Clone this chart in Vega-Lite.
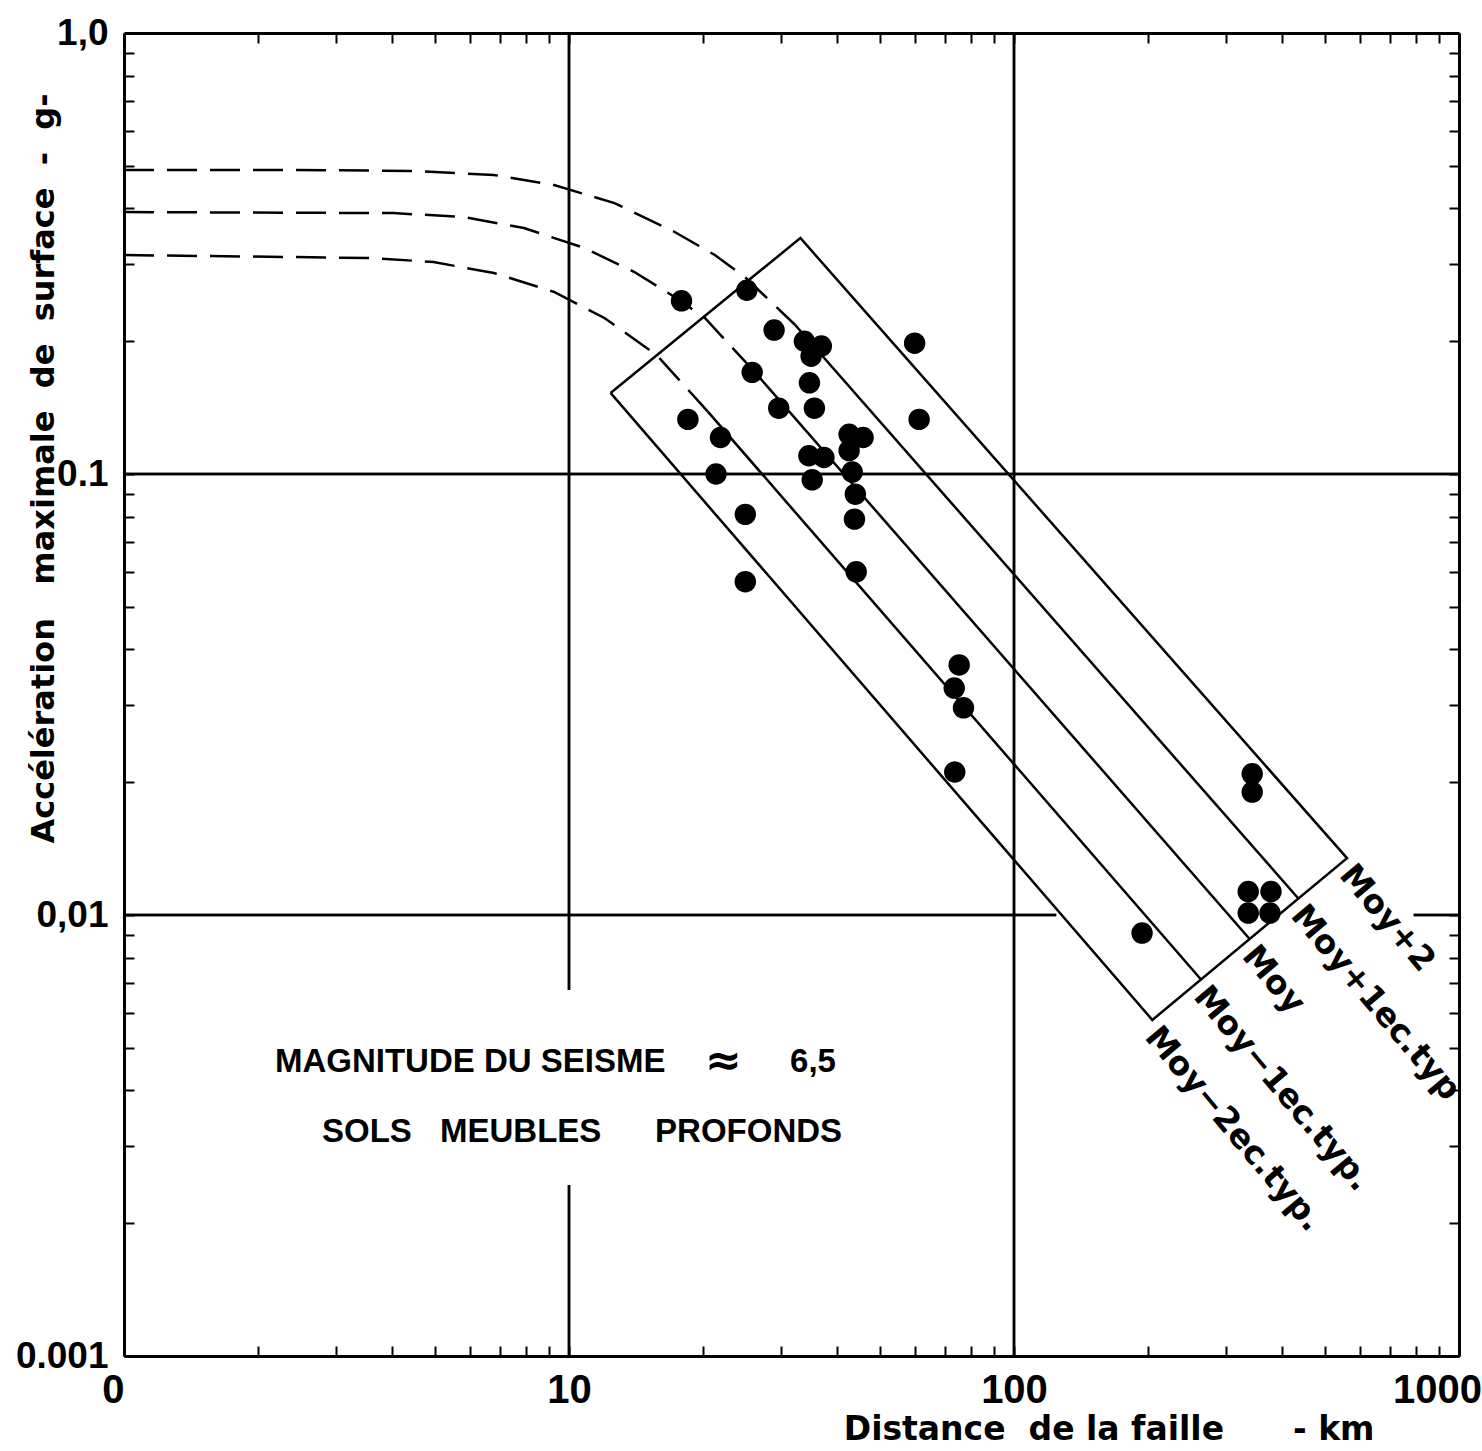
{
  "$schema": "https://vega.github.io/schema/vega-lite/v6.json",
  "width": 1335,
  "height": 1323,
  "autosize": {"type": "none"},
  "padding": {"left": 124, "top": 33, "right": 23, "bottom": 95},
  "background": "white",
  "config": {"view": {"stroke": null}},
  "datasets": {
    "points": [
      {"dist": 17.9, "acc": 0.247}, {"dist": 25.1, "acc": 0.261}, {"dist": 28.9, "acc": 0.212},
      {"dist": 33.8, "acc": 0.200}, {"dist": 36.9, "acc": 0.195}, {"dist": 35.0, "acc": 0.185},
      {"dist": 59.8, "acc": 0.198}, {"dist": 25.8, "acc": 0.170}, {"dist": 34.7, "acc": 0.161},
      {"dist": 29.6, "acc": 0.141}, {"dist": 35.6, "acc": 0.141}, {"dist": 61.2, "acc": 0.133},
      {"dist": 18.5, "acc": 0.133}, {"dist": 21.9, "acc": 0.121}, {"dist": 42.6, "acc": 0.123},
      {"dist": 45.8, "acc": 0.121}, {"dist": 42.6, "acc": 0.113}, {"dist": 34.6, "acc": 0.110},
      {"dist": 37.4, "acc": 0.109}, {"dist": 21.4, "acc": 0.100}, {"dist": 35.2, "acc": 0.097},
      {"dist": 43.3, "acc": 0.101}, {"dist": 44.0, "acc": 0.090}, {"dist": 43.8, "acc": 0.079},
      {"dist": 24.9, "acc": 0.081}, {"dist": 44.2, "acc": 0.060}, {"dist": 24.9, "acc": 0.057},
      {"dist": 75.3, "acc": 0.0369}, {"dist": 73.4, "acc": 0.0327}, {"dist": 77.0, "acc": 0.0295},
      {"dist": 73.6, "acc": 0.0211}, {"dist": 343, "acc": 0.0209}, {"dist": 343, "acc": 0.0190},
      {"dist": 336, "acc": 0.0113}, {"dist": 378, "acc": 0.0113}, {"dist": 336, "acc": 0.0101},
      {"dist": 376, "acc": 0.0101}, {"dist": 194, "acc": 0.0091}
    ],
    "grid": [
      {"dist": 10, "dist2": 10, "acc": 1, "acc2": 0.00676},
      {"dist": 10, "dist2": 10, "acc": 0.00244, "acc2": 0.001},
      {"dist": 100, "dist2": 100, "acc": 1, "acc2": 0.001},
      {"dist": 1, "dist2": 1000, "acc": 0.1, "acc2": 0.1},
      {"dist": 1, "dist2": 124.4, "acc": 0.01, "acc2": 0.01},
      {"dist": 791, "dist2": 1000, "acc": 0.01, "acc2": 0.01}
    ],
    "traces": [
      {"trace": "courbe+1", "kind": "courbe", "ordre": 1, "dist": 1, "acc": 0.489},
      {"trace": "courbe+1", "kind": "courbe", "ordre": 2, "dist": 2.40, "acc": 0.489},
      {"trace": "courbe+1", "kind": "courbe", "ordre": 3, "dist": 4.47, "acc": 0.4866},
      {"trace": "courbe+1", "kind": "courbe", "ordre": 4, "dist": 6.78, "acc": 0.4765},
      {"trace": "courbe+1", "kind": "courbe", "ordre": 5, "dist": 9.26, "acc": 0.4521},
      {"trace": "courbe+1", "kind": "courbe", "ordre": 6, "dist": 12.65, "acc": 0.4115},
      {"trace": "courbe+1", "kind": "courbe", "ordre": 7, "dist": 17.28, "acc": 0.3538},
      {"trace": "courbe+1", "kind": "courbe", "ordre": 8, "dist": 21.27, "acc": 0.3137},
      {"trace": "courbe+1", "kind": "courbe", "ordre": 9, "dist": 24.99, "acc": 0.2782},
      {"trace": "courbe+1", "kind": "courbe", "ordre": 10, "dist": 32.24, "acc": 0.2177},
      {"trace": "courbe0", "kind": "courbe", "ordre": 1, "dist": 1, "acc": 0.3926},
      {"trace": "courbe0", "kind": "courbe", "ordre": 2, "dist": 4.03, "acc": 0.3905},
      {"trace": "courbe0", "kind": "courbe", "ordre": 3, "dist": 5.80, "acc": 0.3826},
      {"trace": "courbe0", "kind": "courbe", "ordre": 4, "dist": 7.92, "acc": 0.3612},
      {"trace": "courbe0", "kind": "courbe", "ordre": 5, "dist": 10.82, "acc": 0.3255},
      {"trace": "courbe0", "kind": "courbe", "ordre": 6, "dist": 14.03, "acc": 0.2871},
      {"trace": "courbe0", "kind": "courbe", "ordre": 7, "dist": 17.28, "acc": 0.2520},
      {"trace": "courbe0", "kind": "courbe", "ordre": 8, "dist": 20.20, "acc": 0.2258},
      {"trace": "courbe0", "kind": "courbe", "ordre": 9, "dist": 26.22, "acc": 0.1698},
      {"trace": "courbe-1", "kind": "courbe", "ordre": 1, "dist": 1, "acc": 0.3137},
      {"trace": "courbe-1", "kind": "courbe", "ordre": 2, "dist": 3.63, "acc": 0.3088},
      {"trace": "courbe-1", "kind": "courbe", "ordre": 3, "dist": 4.96, "acc": 0.3024},
      {"trace": "courbe-1", "kind": "courbe", "ordre": 4, "dist": 6.78, "acc": 0.2856},
      {"trace": "courbe-1", "kind": "courbe", "ordre": 5, "dist": 9.26, "acc": 0.2587},
      {"trace": "courbe-1", "kind": "courbe", "ordre": 6, "dist": 12.01, "acc": 0.2258},
      {"trace": "courbe-1", "kind": "courbe", "ordre": 7, "dist": 15.73, "acc": 0.1862},
      {"trace": "courbe-1", "kind": "courbe", "ordre": 8, "dist": 20.49, "acc": 0.1387},
      {"trace": "Moy+1", "kind": "droite", "ordre": 1, "dist": 32.24, "acc": 0.2177},
      {"trace": "Moy+1", "kind": "droite", "ordre": 2, "dist": 435.5, "acc": 0.01090},
      {"trace": "Moy", "kind": "droite", "ordre": 1, "dist": 26.22, "acc": 0.1698},
      {"trace": "Moy", "kind": "droite", "ordre": 2, "dist": 338.5, "acc": 0.008823},
      {"trace": "Moy-1", "kind": "droite", "ordre": 1, "dist": 20.49, "acc": 0.1387},
      {"trace": "Moy-1", "kind": "droite", "ordre": 2, "dist": 263.2, "acc": 0.00714},
      {"trace": "cadre", "kind": "droite", "ordre": 1, "dist": 12.40, "acc": 0.1527},
      {"trace": "cadre", "kind": "droite", "ordre": 2, "dist": 33.11, "acc": 0.3428},
      {"trace": "cadre", "kind": "droite", "ordre": 3, "dist": 560.2, "acc": 0.01346},
      {"trace": "cadre", "kind": "droite", "ordre": 4, "dist": 204.6, "acc": 0.00578},
      {"trace": "cadre", "kind": "droite", "ordre": 5, "dist": 12.40, "acc": 0.1527}
    ],
    "labels": [
      {"label": "Moy+2", "dist": 560.2, "acc": 0.01346},
      {"label": "Moy+1ec.typ", "dist": 435.5, "acc": 0.01090},
      {"label": "Moy", "dist": 338.5, "acc": 0.008823},
      {"label": "Moy−1ec.typ.", "dist": 263.2, "acc": 0.00714},
      {"label": "Moy−2ec.typ.", "dist": 204.6, "acc": 0.00578}
    ],
    "notes": [
      {"texte": "MAGNITUDE DU SEISME", "dist": 2.184, "acc": 0.00464},
      {"texte": "6,5", "dist": 31.39, "acc": 0.00464},
      {"texte": "SOLS", "dist": 2.786, "acc": 0.00322},
      {"texte": "MEUBLES", "dist": 5.13, "acc": 0.00322},
      {"texte": "PROFONDS", "dist": 15.61, "acc": 0.00322}
    ]
  },
  "layer": [
    {
      "data": {"name": "grid"},
      "mark": {"type": "rule", "color": "black", "strokeWidth": 2.5},
      "encoding": {
        "x": {
          "field": "dist", "type": "quantitative",
          "scale": {"type": "log", "domain": [1, 1000], "nice": false},
          "axis": {
            "orient": "bottom",
            "values": [1,2,3,4,5,6,7,8,9,10,20,30,40,50,60,70,80,90,100,200,300,400,500,600,700,800,900,1000],
            "labelExpr": "datum.value == 1 ? '0' : datum.value == 10 ? '10' : datum.value == 100 ? '100' : datum.value == 1000 ? '1000' : ''",
            "labelFont": "Liberation Sans",
            "labelFontSize": 40, "labelFontWeight": "bold", "labelColor": "black",
            "labelPadding": 24, "labelOverlap": false,
            "labelAlign": {"condition": {"test": "datum.value == 1", "value": "right"}, "value": "center"},
            "labelOffset": {"condition": {"test": "datum.value >= 1000", "value": -22}, "value": 0},
            "tickSize": -10, "tickWidth": 2, "tickColor": "black",
            "domainColor": "black", "domainWidth": 3, "grid": false,
            "title": "Distance\u00a0\u00a0de la faille\u00a0\u00a0\u00a0\u00a0\u00a0\u00a0- km",
            "titleFont": "DejaVu Sans", "titleFontSize": 33, "titleFontWeight": "bold", "titleColor": "black",
            "titleAlign": "right", "titleBaseline": "alphabetic", "titleX": 1250, "titleY": 83
          }
        },
        "x2": {"field": "dist2"},
        "y": {
          "field": "acc", "type": "quantitative",
          "scale": {"type": "log", "domain": [0.001, 1], "nice": false},
          "axis": {
            "orient": "left",
            "values": [0.001,0.002,0.003,0.004,0.005,0.006,0.007,0.008,0.009,0.01,0.02,0.03,0.04,0.05,0.06,0.07,0.08,0.09,0.1,0.2,0.3,0.4,0.5,0.6,0.7,0.8,0.9,1],
            "labelExpr": "datum.value > 0.99 ? '1,0' : abs(datum.value - 0.1) < 1e-6 ? '0.1' : abs(datum.value - 0.01) < 1e-7 ? '0,01' : abs(datum.value - 0.001) < 1e-8 ? '0.001' : ''",
            "labelFont": "Liberation Sans",
            "labelFontSize": 37, "labelFontWeight": "bold", "labelColor": "black",
            "labelPadding": 26, "labelOverlap": false,
            "tickSize": -10, "tickWidth": 2, "tickColor": "black",
            "domainColor": "black", "domainWidth": 3, "grid": false,
            "title": "Accélération\u00a0\u00a0\u00a0maximale\u00a0 de\u00a0 surface\u00a0 -\u00a0 g-",
            "titleFont": "DejaVu Sans", "titleFontSize": 32, "titleFontWeight": "bold", "titleColor": "black",
            "titleAngle": -90, "titleAlign": "right", "titleBaseline": "alphabetic", "titleX": -71, "titleY": 60
          }
        },
        "y2": {"field": "acc2"}
      }
    },
    {
      "data": {"name": "traces"},
      "transform": [{"filter": "datum.kind == 'courbe'"}],
      "mark": {"type": "line", "color": "black", "strokeWidth": 2.5, "strokeDash": [30, 13]},
      "encoding": {
        "x": {"field": "dist", "type": "quantitative", "axis": null},
        "y": {"field": "acc", "type": "quantitative", "axis": null},
        "detail": {"field": "trace"},
        "order": {"field": "ordre", "type": "quantitative"}
      }
    },
    {
      "data": {"name": "traces"},
      "transform": [{"filter": "datum.kind == 'droite'"}],
      "mark": {"type": "line", "color": "black", "strokeWidth": 2.5},
      "encoding": {
        "x": {"field": "dist", "type": "quantitative", "axis": null},
        "y": {"field": "acc", "type": "quantitative", "axis": null},
        "detail": {"field": "trace"},
        "order": {"field": "ordre", "type": "quantitative"}
      }
    },
    {
      "data": {"name": "points"},
      "mark": {"type": "circle", "color": "black", "opacity": 1, "size": 460},
      "encoding": {
        "x": {"field": "dist", "type": "quantitative", "axis": null},
        "y": {"field": "acc", "type": "quantitative", "axis": null}
      }
    },
    {
      "data": {"name": "labels"},
      "mark": {"type": "text", "angle": 50, "align": "left", "baseline": "top", "dx": 8, "dy": -8, "font": "DejaVu Sans", "fontWeight": "bold", "fontSize": 33, "color": "black"},
      "encoding": {
        "x": {"field": "dist", "type": "quantitative", "axis": null},
        "y": {"field": "acc", "type": "quantitative", "axis": null},
        "text": {"field": "label"}
      }
    },
    {
      "data": {"name": "notes"},
      "mark": {"type": "text", "align": "left", "baseline": "middle", "font": "Liberation Sans", "fontWeight": "bold", "fontSize": 33, "color": "black"},
      "encoding": {
        "x": {"field": "dist", "type": "quantitative", "axis": null},
        "y": {"field": "acc", "type": "quantitative", "axis": null},
        "text": {"field": "texte"}
      }
    },
    {
      "data": {"values": [{}]},
      "mark": {"type": "text", "align": "left", "baseline": "middle", "font": "DejaVu Sans", "fontWeight": "bold", "fontSize": 44, "color": "black"},
      "encoding": {
        "x": {"datum": 20.21, "type": "quantitative", "axis": null},
        "y": {"datum": 0.00464, "type": "quantitative", "axis": null},
        "text": {"value": "≈"}
      }
    },
    {
      "data": {"name": "grid"},
      "mark": {"type": "rule", "color": "black", "strokeWidth": 2.5},
      "encoding": {
        "x": {
          "field": "dist", "type": "quantitative",
          "axis": {
            "orient": "top",
            "values": [1,2,3,4,5,6,7,8,9,10,20,30,40,50,60,70,80,90,100,200,300,400,500,600,700,800,900,1000],
            "labels": false, "title": null,
            "tickSize": -10, "tickWidth": 2, "tickColor": "black",
            "domainColor": "black", "domainWidth": 3, "grid": false
          }
        },
        "x2": {"field": "dist2"},
        "y": {
          "field": "acc", "type": "quantitative",
          "axis": {
            "orient": "right",
            "values": [0.001,0.002,0.003,0.004,0.005,0.006,0.007,0.008,0.009,0.01,0.02,0.03,0.04,0.05,0.06,0.07,0.08,0.09,0.1,0.2,0.3,0.4,0.5,0.6,0.7,0.8,0.9,1],
            "labels": false, "title": null,
            "tickSize": -10, "tickWidth": 2, "tickColor": "black",
            "domainColor": "black", "domainWidth": 3, "grid": false
          }
        },
        "y2": {"field": "acc2"}
      }
    }
  ],
  "resolve": {"axis": {"x": "independent", "y": "independent"}}
}
